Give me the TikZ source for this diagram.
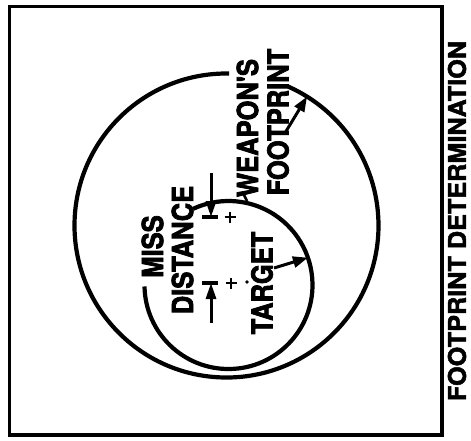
\documentclass[tikz,border=0pt]{standalone}
\usepackage{fontspec}
\setmainfont{TeX Gyre Heros}
\newfontfamily\lblfont{TeX Gyre Heros}[FakeStretch=0.88,FakeBold=2.5,BoldFeatures={FakeBold=2.5}]
\newfontfamily\ttlfont{TeX Gyre Heros}[FakeStretch=1.03,FakeBold=2.0,BoldFeatures={FakeBold=2.0}]
\usetikzlibrary{arrows.meta}
\tikzset{
  lbl/.style={rotate=90, inner sep=0pt, font=\lblfont\fontsize{29}{29}\selectfont\bfseries},
  ttl/.style={rotate=90, inner sep=0pt, font=\ttlfont\fontsize{24.5}{24.5}\selectfont\bfseries},
  ring/.style={line width=4.2pt},
  ptr/.style={line width=3pt, -{Triangle[length=15pt,width=11pt]}},
  dimline/.style={line width=3pt, -{Triangle[length=16pt,width=10pt]}},
  dimbar/.style={line width=3.2pt},
  crossmark/.style={line width=2.6pt},
}
\begin{document}
\begin{tikzpicture}[x=1pt,y=1pt]
\useasboundingbox (0,0) rectangle (471,-440);
\draw[line width=3.5pt] (9.5,-6.5) rectangle (442,-435);
% circles
\coordinate (B) at (226.5,-225.5);
\coordinate (S) at (228.5,-285);
\draw[ring] (B) ++(89:152) arc[start angle=89,end angle=426,radius=152];
\draw[ring] (S) ++(181:84) arc[start angle=181,end angle=475,radius=84];
% labels
\node[lbl] (miss) at (152.5,-246.5) {MISS};
\node[lbl] (dist) at (182.5,-250) {DISTANCE};
\node[lbl] (tgt) at (262,-283) {TARGET};
\node[lbl] (weap) at (247.5,-128) {WEAPON'S};
\node[lbl] (foot) at (278,-122) {FOOTPRINT};
\node[ttl] (title) at (457,-221) {FOOTPRINT DETERMINATION};
% pointers
\coordinate (ft) at (285,-133);
\path (B) ++(58:152) coordinate (fh);
\draw[ptr] (ft) -- (fh);
\coordinate (tt) at (274,-268);
\path (S) ++(19:84) coordinate (th);
\draw[ptr] (tt) -- (th);
% miss distance dimension
\coordinate (u0) at (211,-173);
\coordinate (u1) at (211,-217);
\coordinate (ua) at (202,-217);
\coordinate (ub) at (218,-217);
\draw[dimline] (u0) -- (u1);
\draw[dimbar] (ua) -- (ub);
\coordinate (l0) at (211,-323);
\coordinate (l1) at (211,-283);
\coordinate (la) at (202,-283);
\coordinate (lb) at (218,-283);
\draw[dimline] (l0) -- (l1);
\draw[dimbar] (la) -- (lb);
% centre marks
\coordinate (p1) at (230,-217);
\coordinate (p2) at (231,-283);
\draw[crossmark] (p1) ++(-5.5,0) -- ++(11,0) (p1) ++(0,-5.5) -- ++(0,11);
\draw[crossmark] (p2) ++(-5.5,0) -- ++(11,0) (p2) ++(0,-5.5) -- ++(0,11);
\coordinate (dot) at (247,-282);
\fill (dot) circle (1.8);
\coordinate (k1) at (243,-193);
\coordinate (k2) at (247,-201);
\draw[crossmark] (k1) -- (k2);
\end{tikzpicture}
\end{document}
